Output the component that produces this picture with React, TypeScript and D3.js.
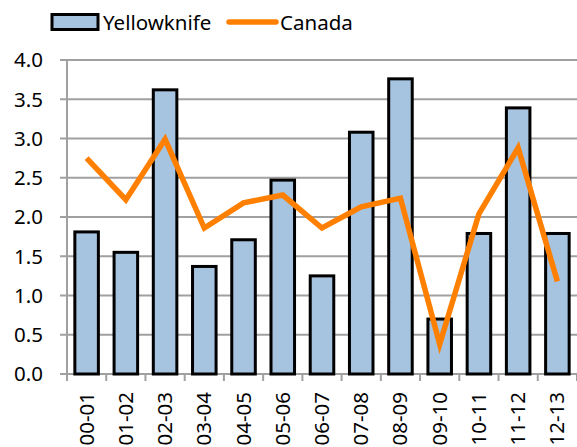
import React, { useRef, useEffect } from "react";
import * as d3 from "d3";

const years = ["00-01", "01-02", "02-03", "03-04", "04-05", "05-06", "06-07", "07-08", "08-09", "09-10", "10-11", "11-12", "12-13"];
const yellowknife = [1.81, 1.55, 3.62, 1.37, 1.71, 2.47, 1.25, 3.08, 3.76, 0.7, 1.79, 3.39, 1.79];
const canada = [2.75, 2.22, 2.99, 1.86, 2.18, 2.28, 1.86, 2.13, 2.24, 0.38, 2.04, 2.88, 1.18];
const yTicks = [0, 0.5, 1, 1.5, 2, 2.5, 3, 3.5, 4];

const App = () => {
  const container = useRef(null);

  const width = 577;
  const height = 447;
  const font = "'Noto Sans', sans-serif";

  useEffect(() => {
    const svg = d3.select(container.current);
    svg.selectAll("*").remove();

    // scales
    const x = d3.scaleBand().domain(years).range([67, 577]).paddingInner(0.4).paddingOuter(0.2);
    const xb = d3.scaleBand().domain(years).range([67, 577]);
    const y = d3.scaleLinear().domain([0, 4]).range([374, 60]);

    // gridlines
    svg
      .append("g")
      .selectAll("line")
      .data(yTicks)
      .enter()
      .append("line")
      .attr("x1", 60)
      .attr("x2", 577)
      .attr("y1", (d) => y(d))
      .attr("y2", (d) => y(d))
      .attr("stroke", "#a0a0a0")
      .attr("stroke-width", 2);

    // y axis line
    svg.append("line").attr("x1", 67).attr("x2", 67).attr("y1", 60).attr("y2", 374).attr("stroke", "#a0a0a0").attr("stroke-width", 2);

    // y labels
    svg
      .append("g")
      .selectAll("text")
      .data(yTicks)
      .enter()
      .append("text")
      .attr("x", 43)
      .attr("y", (d) => y(d))
      .attr("dy", "0.36em")
      .attr("text-anchor", "end")
      .style("font-family", font)
      .style("font-size", "20.5px")
      .text((d) => d.toFixed(1));

    // x ticks
    svg
      .append("g")
      .selectAll("line")
      .data(years.concat(["end"]))
      .enter()
      .append("line")
      .attr("x1", (d, i) => 67 + i * xb.bandwidth())
      .attr("x2", (d, i) => 67 + i * xb.bandwidth())
      .attr("y1", 374)
      .attr("y2", 381)
      .attr("stroke", "#a0a0a0")
      .attr("stroke-width", 2);

    // bars
    svg
      .append("g")
      .selectAll("rect")
      .data(yellowknife)
      .enter()
      .append("rect")
      .attr("x", (d, i) => x(years[i]))
      .attr("y", (d) => y(d))
      .attr("width", x.bandwidth())
      .attr("height", (d) => y(0) - y(d))
      .attr("fill", "#a6c3df")
      .attr("stroke", "#000")
      .attr("stroke-width", 3);

    // canada line
    const line = d3
      .line<number>()
      .x((d, i) => xb(years[i]) + xb.bandwidth() / 2)
      .y((d) => y(d));
    svg
      .append("path")
      .datum(canada)
      .attr("d", line)
      .attr("fill", "none")
      .attr("stroke", "#ff7f00")
      .attr("stroke-width", 5.5)
      .attr("stroke-linejoin", "miter");

    // x labels
    svg
      .append("g")
      .selectAll("text")
      .data(years)
      .enter()
      .append("text")
      .attr("transform", (d) => `translate(${xb(d) + xb.bandwidth() / 2 + 7}, 392) rotate(-90)`)
      .attr("text-anchor", "end")
      .style("font-family", font)
      .style("font-size", "20.5px")
      .text((d) => d);

    // legend
    const legend = svg.append("g");
    legend.append("rect").attr("x", 52).attr("y", 14.5).attr("width", 46).attr("height", 15).attr("fill", "#a6c3df").attr("stroke", "#000").attr("stroke-width", 3);
    legend.append("text").attr("x", 103).attr("y", 30).style("font-family", font).style("font-size", "20.5px").text("Yellowknife");
    legend.append("line").attr("x1", 229).attr("x2", 276).attr("y1", 22).attr("y2", 22).attr("stroke", "#ff7f00").attr("stroke-width", 5.5).attr("stroke-linecap", "round");
    legend.append("text").attr("x", 280).attr("y", 30).style("font-family", font).style("font-size", "20.5px").text("Canada");
  }, []);

  return (
    <svg
      ref={container}
      width={width}
      height={height}
      style={{ position: "absolute", left: 0, top: 0, background: "#fff" }}
    />
  );
};

export default App;
